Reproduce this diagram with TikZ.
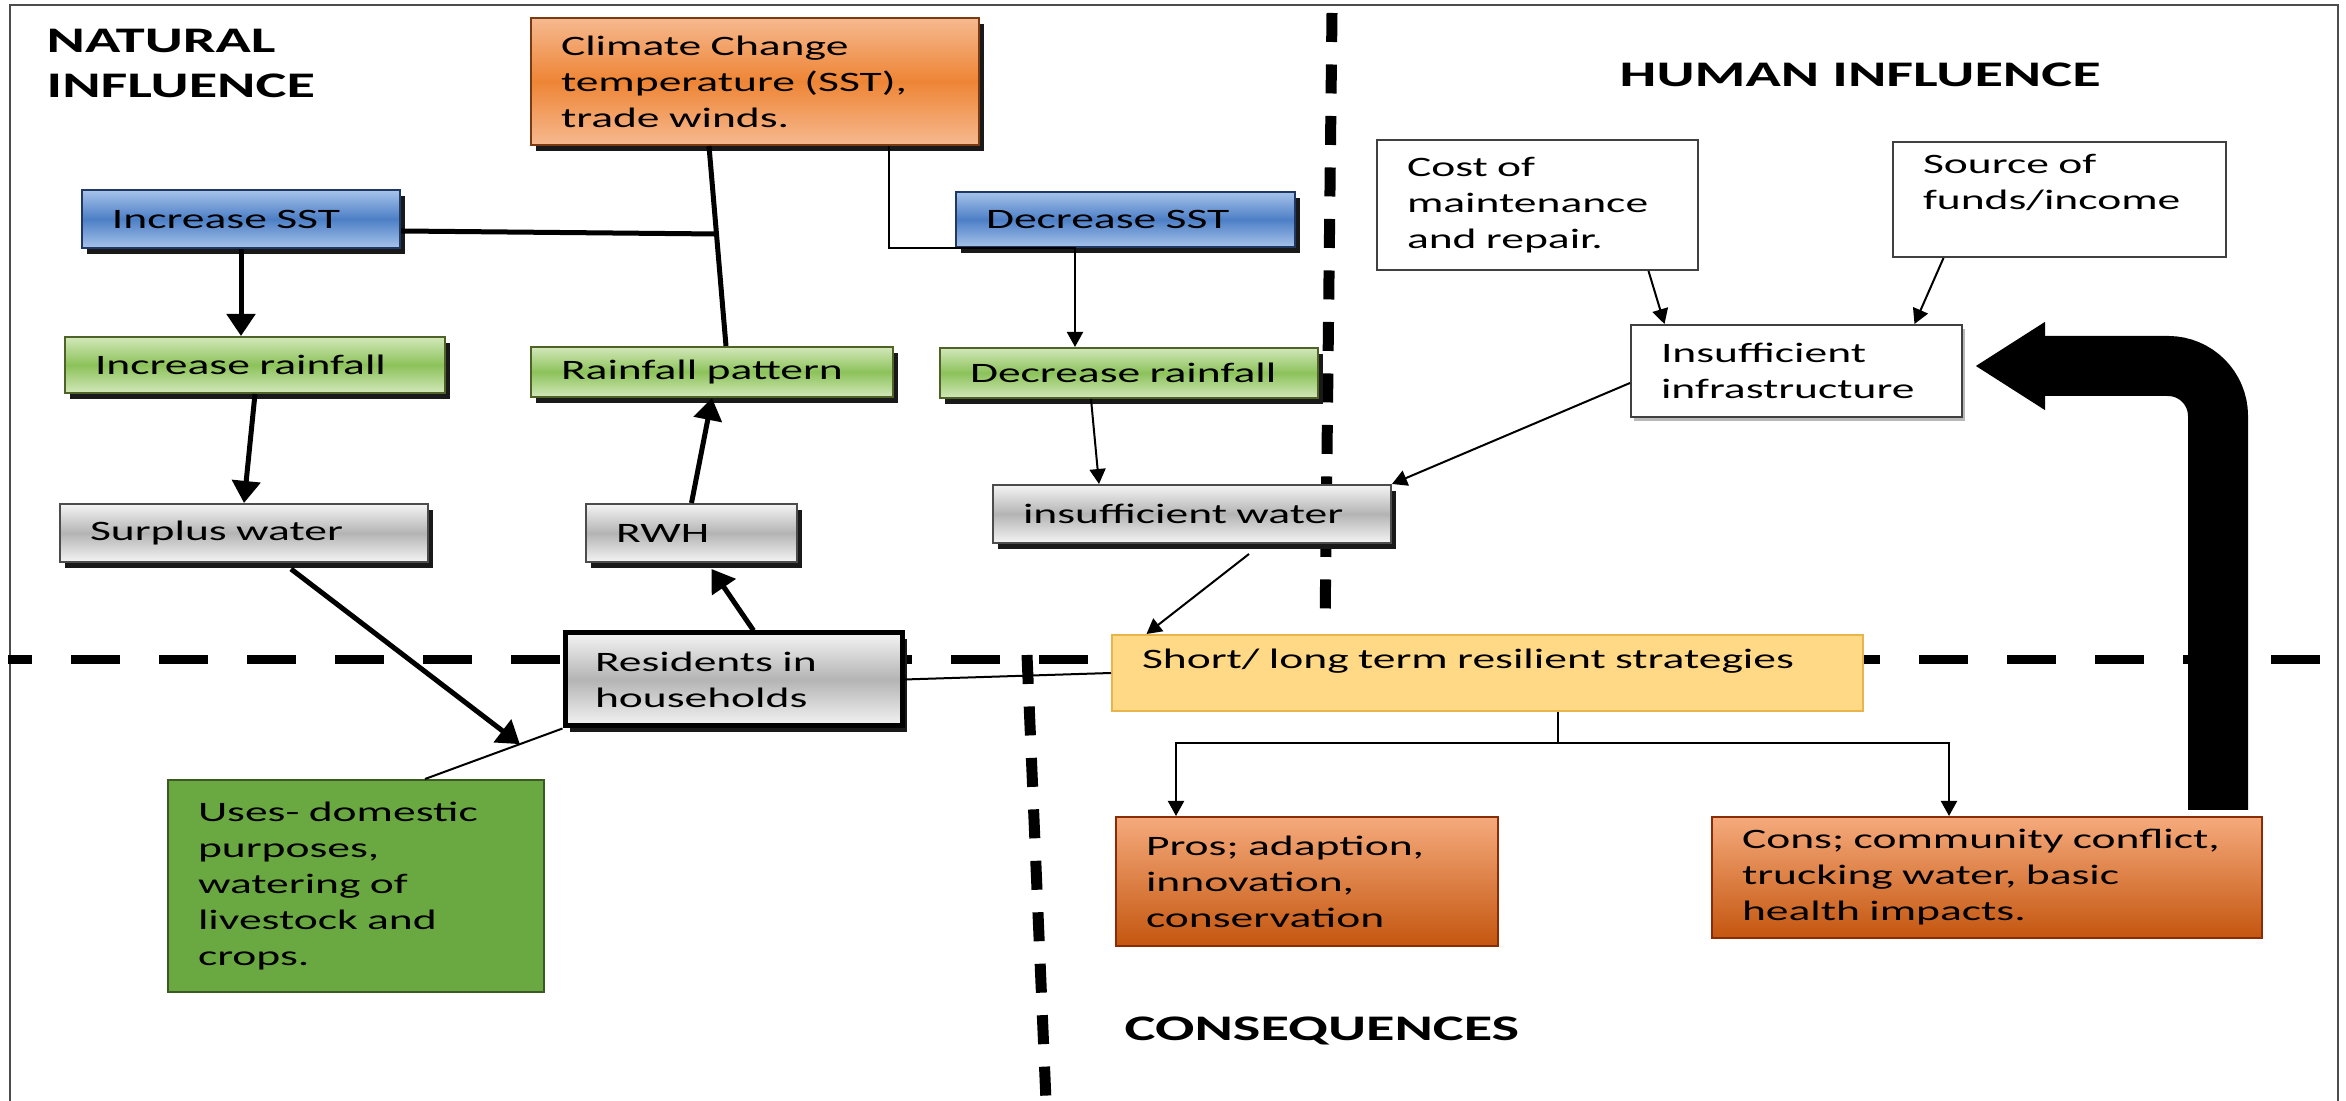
\documentclass[tikz,border=0pt]{standalone}
\usepackage{fontspec}
\setmainfont{Carlito}[FakeStretch=1.62]
\usetikzlibrary{arrows.meta,shadows}

\definecolor{sstlight}{HTML}{A6C3EA}
\definecolor{sstmid}{HTML}{4D7FC6}
\definecolor{sstline}{HTML}{1F3864}
\definecolor{rainlight}{HTML}{D3E8BA}
\definecolor{rainmid}{HTML}{8CC25A}
\definecolor{rainline}{HTML}{4F6228}
\definecolor{greylight}{HTML}{F4F4F4}
\definecolor{greymid}{HTML}{B4B4B4}
\definecolor{climlight}{HTML}{F6B990}
\definecolor{climmid}{HTML}{EE8535}
\definecolor{climline}{HTML}{7A3A12}
\definecolor{shortfill}{HTML}{FFD985}
\definecolor{shortline}{HTML}{E8B44C}
\definecolor{usesfill}{HTML}{6AA842}
\definecolor{usesline}{HTML}{3B5A22}
\definecolor{conslight}{HTML}{F5AA7C}
\definecolor{consdark}{HTML}{C4560F}
\definecolor{consline}{HTML}{8A2C05}

\begin{document}
\begin{tikzpicture}[every node/.style={font=\fontsize{8}{10.24}\selectfont},
	plainbox/.style={rectangle, inner xsep=0.3cm, inner ysep=0cm, align=left, line width=0.02cm},
	boxshadow/.style={drop shadow={shadow xshift=0.05cm, shadow yshift=-0.06cm, fill=black!90, opacity=1}},
	sstbox/.style={plainbox, boxshadow, draw=sstline, top color=sstlight, bottom color=sstlight, middle color=sstmid},
	rainbox/.style={plainbox, boxshadow, draw=rainline, top color=rainlight, bottom color=rainlight, middle color=rainmid},
	greybox/.style={plainbox, boxshadow, draw=black!70, top color=greylight, bottom color=greylight, middle color=greymid},
	climbox/.style={plainbox, boxshadow, draw=climline, top color=climlight, bottom color=climlight, middle color=climmid},
	whitebox/.style={plainbox, draw=black!75, fill=white},
	consbox/.style={plainbox, draw=consline, top color=conslight, bottom color=consdark},
	heading/.style={font=\fontsize{10.24}{12.8}\selectfont\bfseries, align=left, inner sep=0cm},
	thickline/.style={line width=0.05cm},
	thickarrow/.style={line width=0.05cm, -{Triangle[width=0.28cm,length=0.22cm]}},
	thinline/.style={line width=0.02cm},
	thinarrow/.style={line width=0.02cm, -{Triangle[width=0.16cm,length=0.15cm]}},
	hdivider/.style={line width=0.09cm, dash pattern=on 0.49cm off 0.39cm, dash phase=0.25cm},
	vdivider/.style={line width=0.11cm, dash pattern=on 0.29cm off 0.225cm}]
	\useasboundingbox (0,0) rectangle (23.46,-11.01);
	\draw[black!70, line width=0.02cm] (0.10,-11.01) -- (0.10,-0.05) -- (23.38,-0.05) -- (23.38,-11.01);
	\draw[hdivider] (0.08,-6.6) -- (23.46,-6.6);
	\draw[vdivider] (13.32,-0.13) -- (13.25,-6.3);
	\draw[vdivider] (10.27,-6.55) -- (10.46,-11.01);

	\node[heading, anchor=north west] (natural) at (0.46,-0.28) {NATURAL\\INFLUENCE};
	\node[heading, anchor=west] (human) at (16.19,-0.75) {HUMAN INFLUENCE};
	\node[heading, anchor=west] (conseq) at (11.24,-10.31) {CONSEQUENCES};

	\node[climbox, text width=3.88cm, minimum height=1.27cm] (clim) at (7.55,-0.815) {Climate Change\\temperature (SST),\\trade winds.};
	\node[sstbox, text width=2.58cm, minimum height=0.58cm] (incsst) at (2.41,-2.19) {Increase SST};
	\node[sstbox, text width=2.79cm, minimum height=0.55cm] (decsst) at (11.255,-2.195) {Decrease SST};
	\node[rainbox, text width=3.20cm, minimum height=0.56cm] (incrain) at (2.55,-3.65) {Increase rainfall};
	\node[rainbox, text width=3.02cm, minimum height=0.50cm] (rainpat) at (7.12,-3.72) {Rainfall pattern};
	\node[rainbox, text width=3.18cm, minimum height=0.50cm] (decrain) at (11.29,-3.73) {Decrease rainfall};
	\node[greybox, text width=3.08cm, minimum height=0.58cm] (surplus) at (2.44,-5.33) {Surplus water};
	\node[greybox, text width=1.51cm, minimum height=0.58cm] (rwh) at (6.915,-5.33) {RWH};
	\node[greybox, text width=3.38cm, minimum height=0.58cm] (insw) at (11.92,-5.14) {insufficient water};
	\node[greybox, draw=black, line width=0.05cm, text width=2.77cm, minimum height=0.93cm] (res) at (7.335,-6.795) {Residents in\\households};
	\node[plainbox, draw=usesline, fill=usesfill, text width=3.16cm, minimum height=2.12cm] (uses) at (3.56,-8.86) {Uses- domestic\\purposes,\\watering of\\livestock and\\crops.};
	\node[whitebox, text width=2.61cm, minimum height=1.30cm] (cost) at (15.375,-2.05) {Cost of\\maintenance\\and repair.};
	\node[whitebox, text width=2.73cm, minimum height=1.15cm] (source) at (20.595,-1.995) {Source of\\funds/income\\\mbox{}};
	\node[whitebox, drop shadow={shadow xshift=0.03cm, shadow yshift=-0.04cm, fill=black!35, opacity=0.8}, text width=2.71cm, minimum height=0.92cm] (infra) at (17.965,-3.71) {Insufficient\\infrastructure};
	\node[plainbox, draw=shortline, fill=shortfill, text width=6.91cm, minimum height=0.76cm] (short) at (14.875,-6.73) {Short/ long term resilient strategies\\[-0.07cm]\mbox{}};
	\node[consbox, text width=3.22cm, minimum height=1.29cm] (pros) at (13.07,-8.815) {Pros; adaption,\\innovation,\\conservation};
	\node[consbox, text width=4.90cm, minimum height=1.21cm] (cons) at (19.87,-8.775) {Cons; community conflict,\\trucking water, basic\\health impacts.};

	\draw[thickarrow] (incsst.south) -- (incsst.south |- incrain.north);
	\draw[thickarrow] (incrain.south) -- (surplus.north);
	\draw[thickline] ([xshift=-0.46cm]clim.south) -- coordinate[pos=0.44] (climjoin) ([xshift=0.14cm]rainpat.north);
	\draw[thickline] ([yshift=-0.12cm]incsst.east) -- (climjoin);
	\draw[thickarrow] (rwh.north) -- (rainpat.south);
	\draw[thickarrow] ([xshift=0.2cm]res.north) -- ([xshift=0.2cm,yshift=-0.06cm]rwh.south);
	\draw[thinline] (res.south west) -- coordinate[pos=0.31] (usejoin) ([xshift=0.69cm]uses.north);
	\draw[thickarrow] ([xshift=0.47cm,yshift=-0.06cm]surplus.south) -- (usejoin);
	\draw[thinarrow] ([xshift=1.34cm]clim.south) |- ([xshift=-0.505cm]decsst.south) -- ([xshift=-0.54cm]decrain.north);
	\draw[thinarrow] ([xshift=-0.38cm]decrain.south) -- ([xshift=-0.93cm]insw.north);
	\draw[thinarrow] ([yshift=-0.12cm]infra.west) -- (insw.north east);
	\draw[thinarrow] ([xshift=1.11cm]cost.south) -- ([xshift=-1.32cm]infra.north);
	\draw[thinarrow] ([xshift=-1.16cm]source.south) -- ([xshift=1.18cm]infra.north);
	\draw[thinarrow] ([xshift=0.57cm,yshift=-0.1cm]insw.south) -- ([xshift=-3.41cm]short.north);
	\draw[thinline] (res.east) -- (short.west);
	\draw[thinline] ([xshift=0.7cm]short.south) -- ++(0,-0.31) coordinate (fork);
	\draw[thinarrow] (fork) -| ([xshift=-1.31cm]pros.north);
	\draw[thinarrow] (fork) -| ([xshift=-0.38cm]cons.north);
	\draw[line width=0.6cm, rounded corners=0.5cm, -{Triangle[width=0.83cm,length=0.7cm]}] ([xshift=-0.45cm,yshift=0.06cm]cons.north east) |- ([xshift=0.12cm,yshift=0.05cm]infra.east);
\end{tikzpicture}
\end{document}
